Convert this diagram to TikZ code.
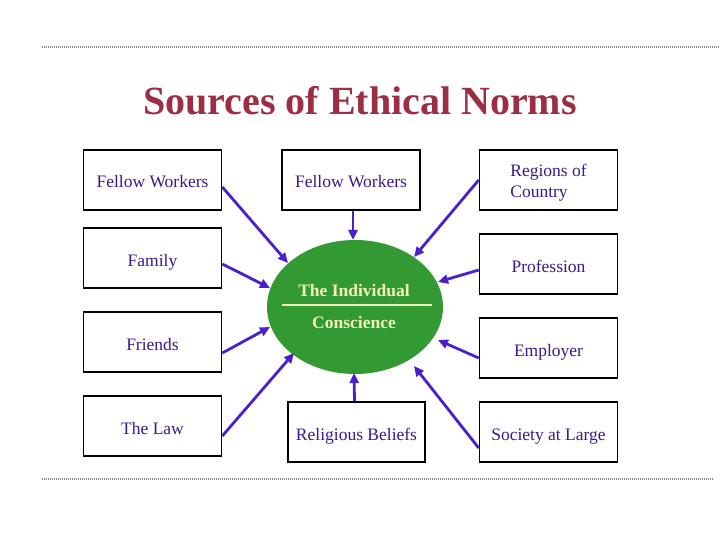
\documentclass[tikz,border=0pt]{standalone}
\usepackage{fontspec}
\setmainfont{Liberation Serif}
\usetikzlibrary{arrows.meta,shapes.geometric}
\definecolor{titlered}{HTML}{9B2D45}
\definecolor{boxtext}{HTML}{3A1A8C}
\definecolor{arrowblue}{HTML}{4A1FD0}
\definecolor{conscgreen}{HTML}{339933}
\definecolor{lightyel}{HTML}{F2F2B8}
\definecolor{dotgray}{HTML}{8A8A8A}
\begin{document}
\begin{tikzpicture}[x=1pt,y=-1pt,
  srcbox/.style={draw=black,line width=1.6pt,fill=white,minimum width=138pt,minimum height=60pt,inner sep=0pt,text=boxtext,font=\fontsize{17.5}{21}\selectfont},
  onebox/.style={srcbox,text height=16pt,text depth=0pt},
  conn/.style={draw=arrowblue,line width=2.8pt,-{Triangle[length=10pt,width=9pt]}},
  dotline/.style={draw=dotgray,line width=1.5pt,dash pattern=on 1pt off 1pt}]
\useasboundingbox (0,0) rectangle (720,540);
% dotted rules
\coordinate (tl) at (42,47); \coordinate (tr) at (720,47);
\coordinate (bl) at (42,479); \coordinate (br) at (714,479);
\draw[dotline] (tl) -- (tr);
\draw[dotline] (bl) -- (br);
% title
\node[text=titlered,font=\fontsize{40}{44}\selectfont\bfseries] (title) at (360,101) {Sources of Ethical Norms};
% boxes
\node[onebox] (fw1) at (152.5,180) {Fellow Workers};
\node[onebox] (fw2) at (351,180) {Fellow Workers};
\node[srcbox,align=left] (reg) at (548.5,180) {\rule{0pt}{18pt}Regions of\\Country};
\node[onebox] (fam) at (152.5,258) {Family};
\node[onebox] (prof) at (548.5,264) {Profession};
\node[onebox] (fri) at (152.5,342) {Friends};
\node[onebox] (emp) at (548.5,348) {Employer};
\node[onebox] (law) at (152.5,426) {The Law};
\node[onebox,minimum width=137pt] (rel) at (356.5,432) {Religious Beliefs};
\node[onebox] (soc) at (548.5,432) {Society at Large};
% central ellipse
\node[ellipse,fill=conscgreen,minimum width=176pt,minimum height=134pt,inner sep=0pt] (ind) at (355,307) {};
\node[text=lightyel,font=\fontsize{17.5}{21}\selectfont\bfseries] (indt) at (354,291) {The Individual};
\node[text=lightyel,font=\fontsize{17.5}{21}\selectfont\bfseries] (cons) at (354,323) {Conscience};
\coordinate (ll) at (282,305); \coordinate (lr) at (432,305);
\draw[lightyel,line width=1.5pt] (ll) -- (lr);
% arrow tips on the ellipse
\coordinate (t1) at (288,263);
\coordinate (t2) at (270,288);
\coordinate (t3) at (353,240);
\coordinate (t4) at (414,257);
\coordinate (t5) at (438,282);
\coordinate (t6) at (270,327);
\coordinate (t7) at (294,353);
\coordinate (t8) at (354,373);
\coordinate (t9) at (438,340);
\coordinate (t10) at (414,366);
% arrows
\draw[conn] ([yshift=-7pt]fw1.east) -- (t1);
\draw[conn] ([yshift=-6pt]fam.east) -- (t2);
\draw[conn] ([xshift=2pt]fw2.south) -- (t3);
\draw[conn] (reg.west) -- (t4);
\draw[conn] ([yshift=-6pt]prof.west) -- (t5);
\draw[conn] ([yshift=-11pt]fri.east) -- (t6);
\draw[conn] ([yshift=-10pt]law.east) -- (t7);
\draw[conn] ([xshift=-2pt]rel.north) -- (t8);
\draw[conn] ([yshift=-10pt]emp.west) -- (t9);
\draw[conn] ([yshift=-16pt]soc.west) -- (t10);
\end{tikzpicture}
\end{document}
